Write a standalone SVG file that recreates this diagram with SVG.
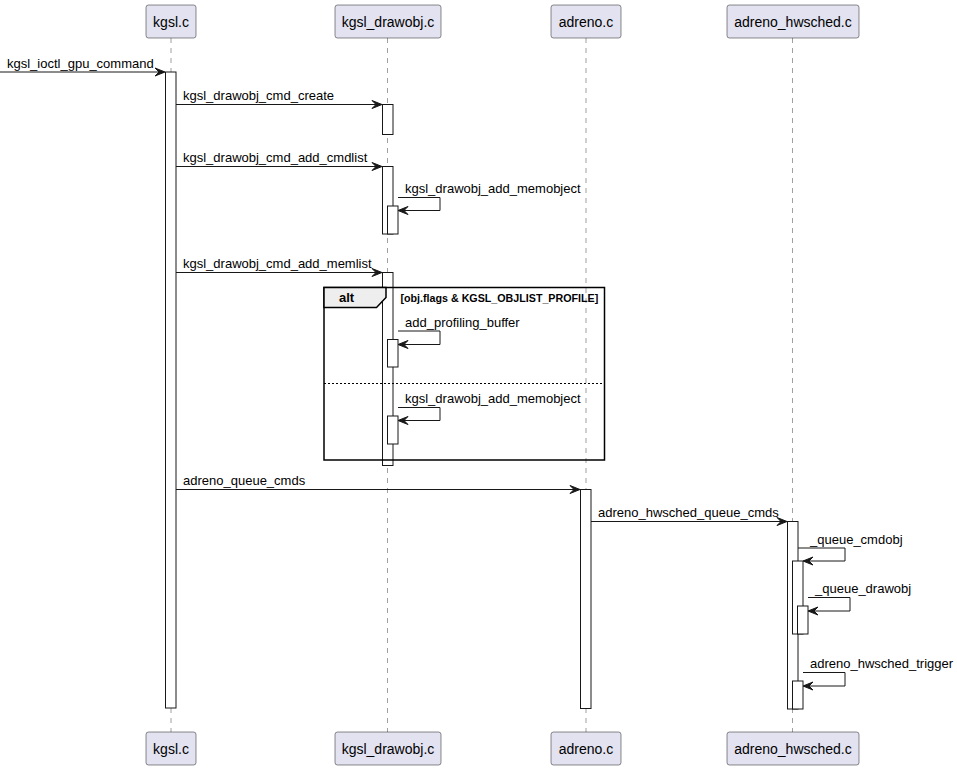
<svg xmlns="http://www.w3.org/2000/svg" width="957" height="772" viewBox="0 0 957 772">
<style>
.pbox{fill:#E2E2F0;stroke:#181818;stroke-width:0.5}
.ptxt{font-family:"Liberation Sans",Arial,sans-serif;font-size:14px;fill:#000;text-anchor:middle}
.life{stroke:#A0A0A0;stroke-width:1;stroke-dasharray:5,5}
.act{fill:#FFFFFF;stroke:#181818;stroke-width:1}
.msg{stroke:#181818;stroke-width:1;fill:none}
.mtxt{font-family:"Liberation Sans",Arial,sans-serif;font-size:13px;fill:#000}
.head{fill:#181818;stroke:#181818;stroke-width:1}
</style>
<rect width="957" height="772" fill="#FFFFFF"/>
<g id="lifelines">
<line class="life" x1="171" y1="38" x2="171" y2="732"/>
<line class="life" x1="387.5" y1="38" x2="387.5" y2="732"/>
<line class="life" x1="586" y1="38" x2="586" y2="732"/>
<line class="life" x1="792.5" y1="38" x2="792.5" y2="732"/>
</g>
<g id="p-kgsl">
<rect class="pbox" x="146" y="5" width="50" height="33" rx="2.5"/>
<text class="ptxt" x="171" y="26.5">kgsl.c</text>
<rect class="pbox" x="146" y="732" width="50" height="33" rx="2.5"/>
<text class="ptxt" x="171" y="753.5">kgsl.c</text>
</g>
<g id="p-drawobj">
<rect class="pbox" x="335" y="5" width="106" height="33" rx="2.5"/>
<text class="ptxt" x="388" y="26.5">kgsl_drawobj.c</text>
<rect class="pbox" x="335" y="732" width="106" height="33" rx="2.5"/>
<text class="ptxt" x="388" y="753.5">kgsl_drawobj.c</text>
</g>
<g id="p-adreno">
<rect class="pbox" x="551" y="5" width="70" height="33" rx="2.5"/>
<text class="ptxt" x="586" y="26.5">adreno.c</text>
<rect class="pbox" x="551" y="732" width="70" height="33" rx="2.5"/>
<text class="ptxt" x="586" y="753.5">adreno.c</text>
</g>
<g id="p-hwsched">
<rect class="pbox" x="727" y="5" width="132" height="33" rx="2.5"/>
<text class="ptxt" x="793" y="26.5">adreno_hwsched.c</text>
<rect class="pbox" x="727" y="732" width="132" height="33" rx="2.5"/>
<text class="ptxt" x="793" y="753.5">adreno_hwsched.c</text>
</g>
<g id="activations">
<rect class="act" x="165.5" y="72" width="10.5" height="636"/>
<rect class="act" x="382.5" y="104.5" width="10.5" height="30"/>
<rect class="act" x="382.5" y="166.5" width="10.5" height="67.5"/>
<rect class="act" x="387.5" y="206" width="10.5" height="28"/>
<rect class="act" x="382.5" y="272.5" width="10.5" height="193"/>
<rect class="act" x="387.5" y="339.5" width="10.5" height="27.5"/>
<rect class="act" x="387.5" y="416" width="10.5" height="28"/>
<rect class="act" x="580.5" y="489.5" width="10.5" height="219"/>
<rect class="act" x="787.5" y="521.5" width="10.5" height="187.5"/>
<rect class="act" x="792.5" y="561" width="10.5" height="73"/>
<rect class="act" x="797.5" y="606" width="10.5" height="28"/>
<rect class="act" x="792.5" y="681" width="10.5" height="28"/>
</g>
<g id="alt-frame">
<rect x="324" y="287.5" width="280.5" height="172.5" fill="none" stroke="#000" stroke-width="1.5"/>
<path d="M324,287.5 L386,287.5 L386,297.5 L376.5,307.5 L324,307.5 Z" fill="#EEEEEE" stroke="#000" stroke-width="1.5"/>
<text x="339" y="302" font-family="'Liberation Sans',Arial,sans-serif" font-size="13" font-weight="bold">alt</text>
<text x="400.5" y="302" font-family="'Liberation Sans',Arial,sans-serif" font-size="10.7" font-weight="bold">[obj.flags &amp; KGSL_OBJLIST_PROFILE]</text>
<line x1="324" y1="383.5" x2="604.5" y2="383.5" stroke="#000" stroke-width="1" stroke-dasharray="2,2"/>
</g>
<g id="connectors">
<line class="msg" x1="0" y1="72" x2="164" y2="72"/>
<polygon class="head" points="165,72 155,68 159,72 155,76"/>
<text class="mtxt" x="7" y="68">kgsl_ioctl_gpu_command</text>

<line class="msg" x1="176" y1="104.5" x2="381" y2="104.5"/>
<polygon class="head" points="382,104.5 372,100.5 376,104.5 372,108.5"/>
<text class="mtxt" x="183" y="100">kgsl_drawobj_cmd_create</text>

<line class="msg" x1="176" y1="166.5" x2="381" y2="166.5"/>
<polygon class="head" points="382,166.5 372,162.5 376,166.5 372,170.5"/>
<text class="mtxt" x="183" y="162">kgsl_drawobj_cmd_add_cmdlist</text>

<polyline class="msg" points="398,197.5 440,197.5 440,210.5 399,210.5"/>
<polygon class="head" points="398,210.5 408,206.5 404,210.5 408,214.5"/>
<text class="mtxt" x="405" y="193">kgsl_drawobj_add_memobject</text>

<line class="msg" x1="176" y1="272.5" x2="381" y2="272.5"/>
<polygon class="head" points="382,272.5 372,268.5 376,272.5 372,276.5"/>
<text class="mtxt" x="183" y="268">kgsl_drawobj_cmd_add_memlist</text>

<polyline class="msg" points="398,331 440,331 440,344.5 399,344.5"/>
<polygon class="head" points="398,344.5 408,340.5 404,344.5 408,348.5"/>
<text class="mtxt" x="405" y="327">add_profiling_buffer</text>

<polyline class="msg" points="398,407.5 440,407.5 440,420.5 399,420.5"/>
<polygon class="head" points="398,420.5 408,416.5 404,420.5 408,424.5"/>
<text class="mtxt" x="405" y="403">kgsl_drawobj_add_memobject</text>

<line class="msg" x1="176" y1="489.5" x2="579" y2="489.5"/>
<polygon class="head" points="580,489.5 570,485.5 574,489.5 570,493.5"/>
<text class="mtxt" x="183" y="485">adreno_queue_cmds</text>

<line class="msg" x1="591" y1="521.5" x2="786" y2="521.5"/>
<polygon class="head" points="787,521.5 777,517.5 781,521.5 777,525.5"/>
<text class="mtxt" x="598" y="517">adreno_hwsched_queue_cmds</text>

<polyline class="msg" points="798,548 845,548 845,561 804,561"/>
<polygon class="head" points="803,561 813,557 809,561 813,565"/>
<text class="mtxt" x="810" y="544">_queue_cmdobj</text>

<polyline class="msg" points="808,597.5 850,597.5 850,611 809,611"/>
<polygon class="head" points="808,611 818,607 814,611 818,615"/>
<text class="mtxt" x="815" y="593">_queue_drawobj</text>

<polyline class="msg" points="803,672.5 845,672.5 845,686 804,686"/>
<polygon class="head" points="803,686 813,682 809,686 813,690"/>
<text class="mtxt" x="810" y="668">adreno_hwsched_trigger</text>
</g>
</svg>
